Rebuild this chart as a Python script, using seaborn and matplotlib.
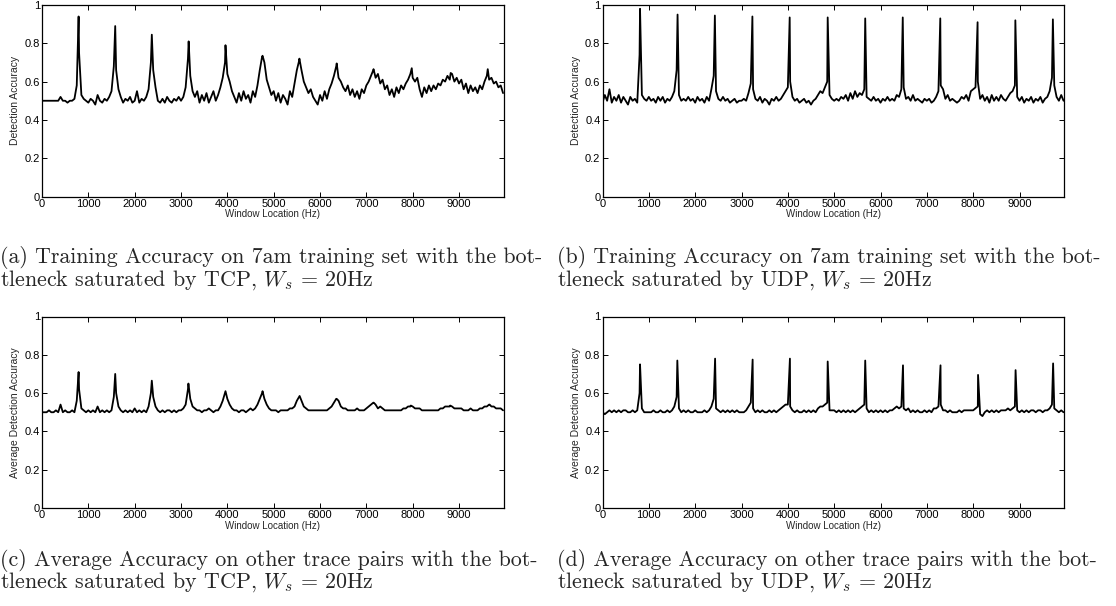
import matplotlib
matplotlib.use("Agg")
import numpy as np
import pandas as pd
import matplotlib.pyplot as plt
import seaborn as sns

# ---------------- data ----------------
window_hz = list(range(0, 10000, 50))  # sampled window locations (Hz)

# (a) training accuracy, TCP
tcp_train_base = [
    0.50, 0.50, 0.50, 0.50, 0.50, 0.50, 0.50, 0.50, 0.52, 0.50, 0.50, 0.49, 0.50, 0.50, 0.51, 0.58, 0.75, 0.53, 0.51, 0.50,
    0.49, 0.51, 0.50, 0.48, 0.53, 0.50, 0.49, 0.51, 0.50, 0.52, 0.55, 0.68, 0.66, 0.56, 0.52, 0.49, 0.51, 0.50, 0.52, 0.49,
    0.50, 0.55, 0.49, 0.51, 0.50, 0.52, 0.56, 0.70, 0.66, 0.57, 0.50, 0.49, 0.51, 0.49, 0.52, 0.50, 0.49, 0.51, 0.50, 0.52,
    0.50, 0.52, 0.57, 0.72, 0.63, 0.55, 0.52, 0.55, 0.49, 0.53, 0.50, 0.54, 0.49, 0.52, 0.55, 0.50, 0.53, 0.57, 0.62, 0.70,
    0.64, 0.60, 0.55, 0.52, 0.49, 0.54, 0.50, 0.55, 0.51, 0.53, 0.49, 0.55, 0.52, 0.58, 0.66, 0.73, 0.70, 0.61, 0.57, 0.53,
    0.55, 0.50, 0.54, 0.49, 0.53, 0.51, 0.48, 0.55, 0.52, 0.59, 0.66, 0.71, 0.66, 0.60, 0.57, 0.54, 0.56, 0.52, 0.50, 0.48,
    0.53, 0.50, 0.55, 0.51, 0.56, 0.59, 0.63, 0.68, 0.62, 0.60, 0.57, 0.55, 0.58, 0.53, 0.56, 0.52, 0.55, 0.51, 0.56, 0.54,
    0.58, 0.60, 0.63, 0.66, 0.62, 0.64, 0.59, 0.61, 0.56, 0.58, 0.53, 0.56, 0.52, 0.57, 0.54, 0.58, 0.56, 0.59, 0.61, 0.64,
    0.62, 0.60, 0.62, 0.56, 0.52, 0.57, 0.54, 0.58, 0.55, 0.58, 0.56, 0.59, 0.58, 0.61, 0.60, 0.63, 0.61, 0.64, 0.60, 0.62,
    0.59, 0.61, 0.56, 0.59, 0.54, 0.58, 0.55, 0.57, 0.54, 0.58, 0.56, 0.60, 0.63, 0.61, 0.62, 0.59, 0.60, 0.57, 0.58, 0.54,
]
tcp_train_peak_hz = [790, 1580, 2370, 3165, 3960, 4760, 5555, 6360, 7155, 7980, 8820, 9620]
tcp_train_peak_acc = [0.94, 0.89, 0.845, 0.81, 0.79, 0.735, 0.72, 0.695, 0.665, 0.67, 0.645, 0.665]

# (b) training accuracy, UDP
udp_train_base = [
    0.49, 0.53, 0.50, 0.56, 0.49, 0.52, 0.50, 0.53, 0.49, 0.52, 0.50, 0.48, 0.52, 0.50, 0.51, 0.49, 0.74, 0.53, 0.51, 0.50,
    0.52, 0.50, 0.51, 0.49, 0.52, 0.50, 0.52, 0.49, 0.51, 0.50, 0.52, 0.55, 0.66, 0.53, 0.50, 0.51, 0.50, 0.52, 0.50, 0.51,
    0.49, 0.52, 0.50, 0.51, 0.49, 0.52, 0.50, 0.56, 0.63, 0.55, 0.51, 0.50, 0.52, 0.50, 0.51, 0.49, 0.50, 0.51, 0.49, 0.50,
    0.50, 0.51, 0.50, 0.54, 0.59, 0.56, 0.51, 0.50, 0.52, 0.49, 0.51, 0.50, 0.48, 0.51, 0.50, 0.52, 0.50, 0.51, 0.53, 0.55,
    0.57, 0.60, 0.52, 0.50, 0.51, 0.49, 0.50, 0.51, 0.49, 0.50, 0.48, 0.50, 0.51, 0.53, 0.55, 0.54, 0.57, 0.60, 0.53, 0.51,
    0.50, 0.51, 0.50, 0.52, 0.51, 0.53, 0.50, 0.54, 0.51, 0.55, 0.52, 0.54, 0.53, 0.56, 0.52, 0.51, 0.50, 0.52, 0.50, 0.51,
    0.49, 0.51, 0.50, 0.52, 0.50, 0.51, 0.50, 0.53, 0.52, 0.56, 0.57, 0.51, 0.52, 0.50, 0.53, 0.50, 0.51, 0.50, 0.49, 0.51,
    0.50, 0.51, 0.49, 0.50, 0.52, 0.55, 0.58, 0.56, 0.51, 0.53, 0.50, 0.51, 0.50, 0.49, 0.50, 0.52, 0.51, 0.53, 0.50, 0.55,
    0.56, 0.57, 0.60, 0.51, 0.53, 0.50, 0.52, 0.49, 0.53, 0.50, 0.52, 0.50, 0.53, 0.51, 0.50, 0.52, 0.54, 0.55, 0.58, 0.52,
    0.50, 0.52, 0.49, 0.51, 0.50, 0.52, 0.49, 0.51, 0.50, 0.52, 0.49, 0.51, 0.52, 0.55, 0.62, 0.58, 0.52, 0.50, 0.53, 0.50,
]
udp_train_peak_hz = [810, 1620, 2425, 3235, 4040, 4860, 5670, 6480, 7290, 8095, 8910, 9720]
udp_train_peak_acc = [0.98, 0.95, 0.945, 0.94, 0.935, 0.935, 0.93, 0.935, 0.93, 0.91, 0.92, 0.925]

# (c) average accuracy, TCP
tcp_avg_base = [
    0.50, 0.50, 0.50, 0.51, 0.50, 0.50, 0.51, 0.50, 0.54, 0.50, 0.51, 0.50, 0.50, 0.51, 0.50, 0.56, 0.62, 0.52, 0.51, 0.50,
    0.51, 0.50, 0.51, 0.50, 0.53, 0.50, 0.51, 0.50, 0.51, 0.50, 0.51, 0.58, 0.60, 0.53, 0.51, 0.50, 0.51, 0.50, 0.51, 0.50,
    0.52, 0.50, 0.51, 0.50, 0.51, 0.50, 0.53, 0.60, 0.58, 0.53, 0.51, 0.50, 0.51, 0.50, 0.51, 0.51, 0.50, 0.51, 0.50, 0.51,
    0.51, 0.52, 0.54, 0.62, 0.57, 0.53, 0.52, 0.51, 0.51, 0.50, 0.51, 0.51, 0.52, 0.51, 0.50, 0.51, 0.51, 0.53, 0.56, 0.60,
    0.57, 0.54, 0.52, 0.51, 0.51, 0.50, 0.51, 0.51, 0.50, 0.51, 0.52, 0.51, 0.52, 0.54, 0.57, 0.60, 0.57, 0.54, 0.52, 0.51,
    0.51, 0.51, 0.50, 0.51, 0.51, 0.51, 0.51, 0.52, 0.52, 0.53, 0.56, 0.58, 0.56, 0.53, 0.52, 0.51, 0.51, 0.51, 0.51, 0.51,
    0.51, 0.51, 0.51, 0.51, 0.52, 0.53, 0.55, 0.57, 0.56, 0.53, 0.52, 0.52, 0.51, 0.51, 0.51, 0.51, 0.52, 0.51, 0.51, 0.51,
    0.52, 0.53, 0.54, 0.55, 0.54, 0.52, 0.53, 0.52, 0.51, 0.51, 0.51, 0.51, 0.51, 0.51, 0.51, 0.51, 0.52, 0.52, 0.53, 0.53,
    0.53, 0.52, 0.52, 0.52, 0.51, 0.51, 0.51, 0.51, 0.51, 0.51, 0.51, 0.51, 0.52, 0.52, 0.53, 0.53, 0.53, 0.53, 0.52, 0.52,
    0.52, 0.52, 0.51, 0.51, 0.51, 0.52, 0.51, 0.51, 0.51, 0.52, 0.52, 0.53, 0.53, 0.54, 0.53, 0.53, 0.52, 0.52, 0.52, 0.51,
]
tcp_avg_peak_hz = [790, 1580, 2370, 3160, 3960, 4760, 5560, 6360, 7160, 7960, 8810, 9660]
tcp_avg_peak_acc = [0.71, 0.70, 0.665, 0.65, 0.61, 0.61, 0.585, 0.57, 0.55, 0.535, 0.535, 0.54]

# (d) average accuracy, UDP
udp_avg_base = [
    0.50, 0.49, 0.50, 0.51, 0.50, 0.51, 0.50, 0.51, 0.50, 0.51, 0.51, 0.50, 0.50, 0.51, 0.50, 0.51, 0.60, 0.52, 0.50, 0.50,
    0.50, 0.50, 0.51, 0.50, 0.50, 0.51, 0.50, 0.50, 0.51, 0.50, 0.51, 0.53, 0.58, 0.52, 0.50, 0.51, 0.50, 0.51, 0.50, 0.50,
    0.51, 0.50, 0.50, 0.50, 0.51, 0.50, 0.51, 0.53, 0.57, 0.52, 0.51, 0.50, 0.51, 0.50, 0.51, 0.50, 0.51, 0.50, 0.51, 0.50,
    0.50, 0.50, 0.51, 0.53, 0.55, 0.52, 0.50, 0.51, 0.50, 0.51, 0.50, 0.50, 0.51, 0.50, 0.51, 0.50, 0.51, 0.52, 0.53, 0.54,
    0.54, 0.53, 0.51, 0.50, 0.51, 0.50, 0.50, 0.51, 0.50, 0.51, 0.50, 0.51, 0.50, 0.52, 0.53, 0.53, 0.54, 0.55, 0.51, 0.51,
    0.51, 0.50, 0.51, 0.50, 0.51, 0.50, 0.51, 0.50, 0.51, 0.50, 0.51, 0.52, 0.53, 0.54, 0.52, 0.50, 0.51, 0.50, 0.51, 0.50,
    0.51, 0.50, 0.51, 0.50, 0.51, 0.51, 0.52, 0.53, 0.52, 0.53, 0.52, 0.51, 0.52, 0.50, 0.51, 0.50, 0.51, 0.50, 0.50, 0.51,
    0.50, 0.51, 0.50, 0.52, 0.52, 0.53, 0.54, 0.51, 0.51, 0.50, 0.51, 0.50, 0.50, 0.50, 0.51, 0.50, 0.51, 0.51, 0.51, 0.51,
    0.51, 0.52, 0.53, 0.49, 0.48, 0.50, 0.51, 0.50, 0.51, 0.50, 0.51, 0.50, 0.51, 0.51, 0.51, 0.52, 0.51, 0.52, 0.53, 0.51,
    0.50, 0.51, 0.50, 0.51, 0.50, 0.51, 0.51, 0.50, 0.51, 0.51, 0.50, 0.51, 0.51, 0.52, 0.54, 0.52, 0.51, 0.50, 0.51, 0.50,
]
udp_avg_peak_hz = [810, 1615, 2430, 3240, 4045, 4860, 5670, 6485, 7295, 8105, 8915, 9725]
udp_avg_peak_acc = [0.75, 0.77, 0.78, 0.775, 0.78, 0.765, 0.77, 0.745, 0.745, 0.695, 0.72, 0.755]

x_ticks = [0, 1000, 2000, 3000, 4000, 5000, 6000, 7000, 8000, 9000]
y_ticks = [0, 0.2, 0.4, 0.6, 0.8, 1.0]
y_tick_labels = ["0", "0.2", "0.4", "0.6", "0.8", "1"]

captions = [
    ["(a) Training Accuracy on 7am training set with the bot-", r"tleneck saturated by TCP, $W_s$ = 20Hz"],
    ["(b) Training Accuracy on 7am training set with the bot-", r"tleneck saturated by UDP, $W_s$ = 20Hz"],
    ["(c) Average Accuracy on other trace pairs with the bot-", r"tleneck saturated by TCP, $W_s$ = 20Hz"],
    ["(d) Average Accuracy on other trace pairs with the bot-", r"tleneck saturated by UDP, $W_s$ = 20Hz"],
]
y_labels = ["Detection Accuracy", "Detection Accuracy",
            "Average Detection Accuracy", "Average Detection Accuracy"]

# ---------------- style ----------------
sns.set_theme(style="white")
plt.rcParams["font.family"] = ["Liberation Sans", "DejaVu Sans"]
plt.rcParams["mathtext.fontset"] = "cm"
plt.rcParams["xtick.direction"] = "in"
plt.rcParams["ytick.direction"] = "in"

fig = plt.figure(figsize=(11.16, 6.06), dpi=100)
W, H = 1116.0, 606.0

def frame(df_base, peaks_x, peaks_y):
    d = pd.DataFrame({"hz": list(window_hz) + list(peaks_x),
                      "acc": list(df_base) + list(peaks_y)})
    return d.sort_values("hz").reset_index(drop=True)

panels = [
    (tcp_train_base, tcp_train_peak_hz, tcp_train_peak_acc, 42, 5),
    (udp_train_base, udp_train_peak_hz, udp_train_peak_acc, 602.5, 5),
    (tcp_avg_base, tcp_avg_peak_hz, tcp_avg_peak_acc, 42, 316.5),
    (udp_avg_base, udp_avg_peak_hz, udp_avg_peak_acc, 602.5, 316.5),
]
ax_w, ax_h = 461.5, 191.5

for i, (base, px, py, left, top) in enumerate(panels):
    ax = fig.add_axes([left / W, 1 - (top + ax_h) / H, ax_w / W, ax_h / H])
    d = frame(base, px, py)
    sns.lineplot(data=d, x="hz", y="acc", ax=ax, color="black", linewidth=1.3,
                 estimator=None, sort=True)
    ax.set_xlim(0, 9960)
    ax.set_ylim(0, 1)
    ax.set_xticks(x_ticks)
    ax.set_xticklabels([str(t) for t in x_ticks])
    ax.set_yticks(y_ticks)
    ax.set_yticklabels(y_tick_labels)
    ax.tick_params(axis="both", which="major", labelsize=8, length=3.5, width=0.7,
                   color="black", labelcolor="black", pad=1.5,
                   top=True, right=True, bottom=True, left=True)
    for sp in ax.spines.values():
        sp.set_visible(True)
        sp.set_color("black")
        sp.set_linewidth(0.9)
    ax.set_xlabel("Window Location (Hz)", fontsize=7, labelpad=0.5,
                  family=["Liberation Sans Narrow", "Liberation Sans"])
    ax.set_ylabel(y_labels[i], fontsize=7.5, labelpad=3)

    cap_left = 0 if left < 100 else 557
    line1_y = 258 if top < 100 else 560
    fig.text(cap_left / W, 1 - line1_y / H, captions[i][0], fontsize=15.8,
             family=["cmr10", "DejaVu Serif"], va="center", ha="left")
    fig.text(cap_left / W, 1 - (line1_y + 22) / H, captions[i][1], fontsize=15.8,
             family=["cmr10", "DejaVu Serif"], va="center", ha="left")

fig.savefig("out.png", dpi=100)
